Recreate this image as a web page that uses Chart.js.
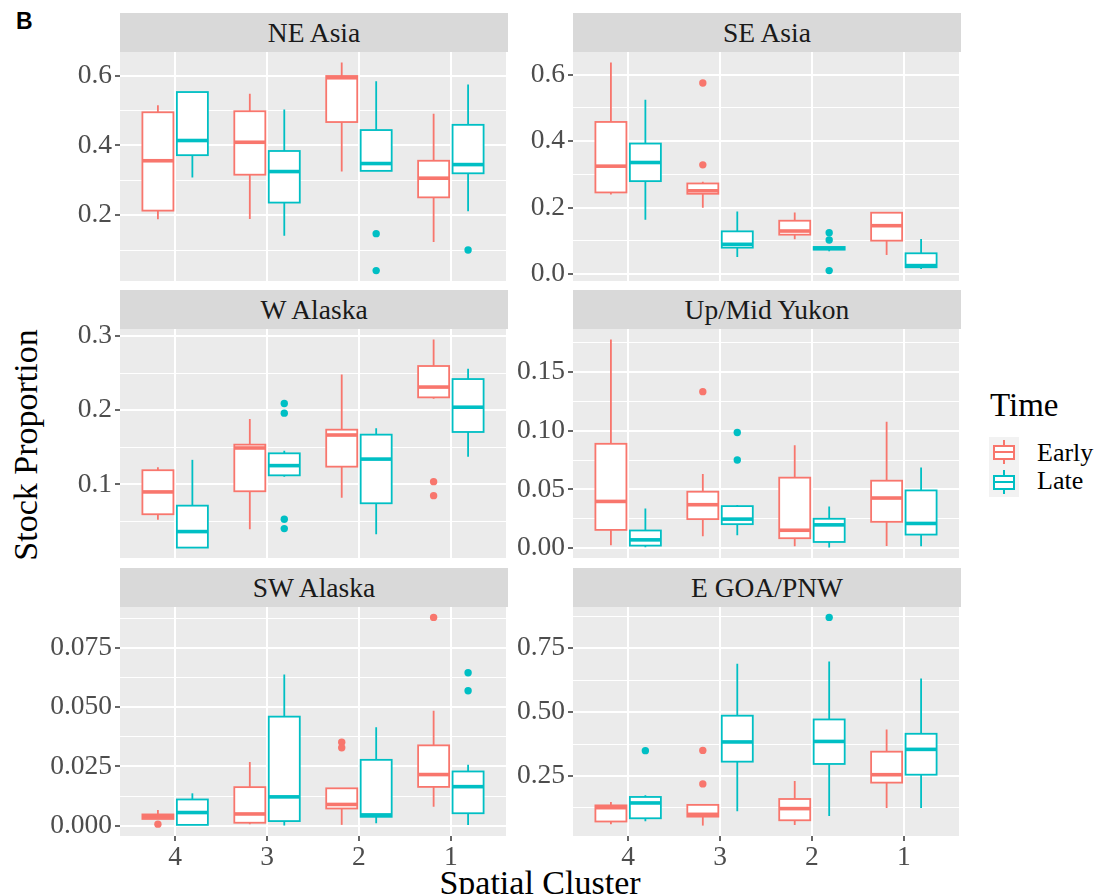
<!DOCTYPE html>
<html>
<head>
<meta charset="utf-8">
<script src="https://cdn.jsdelivr.net/npm/chart.js@4.4.1/dist/chart.umd.min.js"></script>
<style>
  body { margin: 0; width: 1102px; height: 894px; overflow: hidden; background: #fff; position: relative;
         font-family: 'Liberation Serif', 'DejaVu Serif', serif; }
  .abs { position: absolute; white-space: nowrap; }
  .strip { position: absolute; background: #D9D9D9; color: #1A1A1A; font-size: 27.5px; text-align: center; white-space: nowrap; }
  canvas { position: absolute; }
  .key { position: absolute; width: 30px; height: 30px; background: #F2F2F2; }
  .key .whisker { position: absolute; left: 14px; top: 3px; width: 2px; height: 24px; }
  .key .box { position: absolute; left: 4px; top: 8px; width: 18px; height: 11px; background: #fff; border: 2px solid; }
  .key .median { position: absolute; left: 0; top: 4px; width: 18px; height: 2px; }
</style>
</head>
<body>
<div class="abs" style="left:16px; top:10px; font-family:'Liberation Sans', Arial, sans-serif; font-weight:bold; font-size:23px; line-height:23px;">B</div>
<div class="abs" style="left:26px; top:445px; font-size:34px; line-height:34px; transform:translate(-50%,-50%) rotate(-90deg);">Stock Proportion</div>
<div class="abs" style="left:540px; top:866px; font-size:34px; line-height:34px; transform:translateX(-50%);">Spatial Cluster</div>

<div class="abs" style="left:990px; top:389px; font-size:33px; line-height:33px;">Time</div>
<div class="key" style="left:989px; top:437px;">
  <div class="whisker" style="background:#F8766D"></div>
  <div class="box" style="border-color:#F8766D"><div class="median" style="background:#F8766D"></div></div>
</div>
<div class="key" style="left:989px; top:467px;">
  <div class="whisker" style="background:#00BFC4"></div>
  <div class="box" style="border-color:#00BFC4"><div class="median" style="background:#00BFC4"></div></div>
</div>
<div class="abs" style="left:1037px; top:440px; font-size:26px; line-height:26px;">Early</div>
<div class="abs" style="left:1037px; top:468px; font-size:26px; line-height:26px;">Late</div>

<script>
// Spatial clusters on the x axis and the two sampling periods
const clusters = ['4', '3', '2', '1'];
const timeGroups = ['Early', 'Late'];
const groupColors = ['#F8766D', '#00BFC4'];

// Box summaries per cluster (4, 3, 2, 1): [lower whisker, Q1, median, Q3, upper whisker]
// Outliers: [cluster index, value]
const neAsiaEarly = [[0.188, 0.213, 0.356, 0.495, 0.515], [0.189, 0.316, 0.409, 0.498, 0.548],
                     [0.325, 0.467, 0.594, 0.599, 0.638], [0.123, 0.251, 0.306, 0.356, 0.491]];
const neAsiaLate = [[0.308, 0.372, 0.414, 0.553, 0.553], [0.141, 0.236, 0.325, 0.384, 0.503],
                    [0.327, 0.327, 0.348, 0.444, 0.584], [0.211, 0.320, 0.345, 0.459, 0.575]];
const neAsiaEarlyOut = [];
const neAsiaLateOut = [[2, 0.147], [2, 0.041], [3, 0.100]];
const neAsiaTicks = [0.2, 0.4, 0.6];
const neAsiaTickLabels = ['0.2', '0.4', '0.6'];

const seAsiaEarly = [[0.240, 0.246, 0.325, 0.458, 0.637], [0.200, 0.242, 0.251, 0.273, 0.278],
                     [0.105, 0.119, 0.130, 0.161, 0.186], [0.058, 0.101, 0.146, 0.185, 0.185]];
const seAsiaLate = [[0.164, 0.280, 0.336, 0.393, 0.525], [0.052, 0.080, 0.090, 0.129, 0.189],
                    [0.069, 0.074, 0.078, 0.082, 0.082], [0.016, 0.021, 0.026, 0.063, 0.106]];
const seAsiaEarlyOut = [[1, 0.575], [1, 0.329]];
const seAsiaLateOut = [[2, 0.125], [2, 0.103], [2, 0.011]];
const seAsiaTicks = [0, 0.2, 0.4, 0.6];
const seAsiaTickLabels = ['0.0', '0.2', '0.4', '0.6'];

const wAlaskaEarly = [[0.052, 0.0596, 0.0897, 0.119, 0.123], [0.0393, 0.0906, 0.149, 0.1535, 0.188],
                      [0.082, 0.1238, 0.1665, 0.1737, 0.248], [0.2155, 0.2173, 0.2312, 0.2596, 0.2955]];
const wAlaskaLate = [[0.0146, 0.0146, 0.0362, 0.0712, 0.133], [0.1103, 0.1121, 0.1252, 0.1418, 0.1454],
                     [0.0326, 0.0744, 0.134, 0.167, 0.1755], [0.1373, 0.1706, 0.204, 0.242, 0.256]];
const wAlaskaEarlyOut = [[3, 0.1036], [3, 0.0847]];
const wAlaskaLateOut = [[1, 0.209], [1, 0.196], [1, 0.0528], [1, 0.0402]];
const wAlaskaTicks = [0.1, 0.2, 0.3];
const wAlaskaTickLabels = ['0.1', '0.2', '0.3'];

const yukonEarly = [[0.0023, 0.0154, 0.0397, 0.0889, 0.178], [0.010, 0.0246, 0.0369, 0.048, 0.0631],
                    [0.0014, 0.0083, 0.0151, 0.060, 0.0877], [0.0017, 0.0223, 0.0426, 0.0574, 0.1077]];
const yukonLate = [[0.0006, 0.002, 0.0069, 0.0149, 0.0337], [0.0109, 0.0203, 0.0246, 0.0357, 0.0366],
                   [0.0003, 0.0051, 0.0197, 0.0249, 0.0354], [0.0014, 0.0114, 0.0209, 0.0491, 0.0686]];
const yukonEarlyOut = [[1, 0.1334]];
const yukonLateOut = [[1, 0.0986], [1, 0.0751]];
const yukonTicks = [0, 0.05, 0.10, 0.15];
const yukonTickLabels = ['0.00', '0.05', '0.10', '0.15'];

const swAlaskaEarly = [[0.0029, 0.0029, 0.0039, 0.0048, 0.0067], [0.0007, 0.0013, 0.005, 0.0163, 0.0269],
                       [0.0004, 0.0073, 0.009, 0.0158, 0.0158], [0.008, 0.0164, 0.0216, 0.0339, 0.0485]];
const swAlaskaLate = [[0.0004, 0.0004, 0.0056, 0.0111, 0.0137], [0.0001, 0.002, 0.0122, 0.046, 0.0638],
                      [0.0011, 0.0038, 0.0046, 0.0278, 0.0415], [0.0004, 0.0053, 0.0165, 0.0229, 0.0257]];
const swAlaskaEarlyOut = [[0, 0.0007], [2, 0.0352], [2, 0.0329], [3, 0.0878]];
const swAlaskaLateOut = [[3, 0.0645], [3, 0.0569]];
const swAlaskaTicks = [0, 0.025, 0.050, 0.075];
const swAlaskaTickLabels = ['0.000', '0.025', '0.050', '0.075'];

const egoaEarly = [[0.061, 0.072, 0.126, 0.135, 0.148], [0.056, 0.091, 0.100, 0.137, 0.137],
                   [0.0586, 0.0768, 0.1224, 0.160, 0.2305], [0.125, 0.224, 0.255, 0.345, 0.432]];
const egoaLate = [[0.073, 0.0846, 0.1445, 0.168, 0.1745], [0.112, 0.306, 0.383, 0.4857, 0.689],
                  [0.0938, 0.297, 0.385, 0.471, 0.698], [0.125, 0.255, 0.354, 0.415, 0.6315]];
const egoaEarlyOut = [[1, 0.350], [1, 0.219]];
const egoaLateOut = [[0, 0.349], [2, 0.870]];
const egoaTicks = [0.25, 0.50, 0.75];
const egoaTickLabels = ['0.25', '0.50', '0.75'];

const panels = [
  { title: 'NE Asia', stats: [neAsiaEarly, neAsiaLate], outliers: [neAsiaEarlyOut, neAsiaLateOut], ticks: neAsiaTicks, labels: neAsiaTickLabels },
  { title: 'SE Asia', stats: [seAsiaEarly, seAsiaLate], outliers: [seAsiaEarlyOut, seAsiaLateOut], ticks: seAsiaTicks, labels: seAsiaTickLabels },
  { title: 'W Alaska', stats: [wAlaskaEarly, wAlaskaLate], outliers: [wAlaskaEarlyOut, wAlaskaLateOut], ticks: wAlaskaTicks, labels: wAlaskaTickLabels },
  { title: 'Up/Mid Yukon', stats: [yukonEarly, yukonLate], outliers: [yukonEarlyOut, yukonLateOut], ticks: yukonTicks, labels: yukonTickLabels },
  { title: 'SW Alaska', stats: [swAlaskaEarly, swAlaskaLate], outliers: [swAlaskaEarlyOut, swAlaskaLateOut], ticks: swAlaskaTicks, labels: swAlaskaTickLabels },
  { title: 'E GOA/PNW', stats: [egoaEarly, egoaLate], outliers: [egoaEarlyOut, egoaLateOut], ticks: egoaTicks, labels: egoaTickLabels }
];

// facet grid geometry (2 columns x 3 rows)
const columns = [
  { canvasLeft: 20, plotLeft: 120, plotRight: 508 },
  { canvasLeft: 505, plotLeft: 573, plotRight: 961 }
];
const rows = [
  { stripTop: 13, plotTop: 52, plotBottom: 281 },
  { stripTop: 290, plotTop: 329, plotBottom: 558 },
  { stripTop: 568, plotTop: 607, plotBottom: 836 }
];
const PAD = 20;
const DODGE = [-0.1875, 0.1875];
const BOX_HALF = 0.16875;
const SERIF = "'Liberation Serif', 'Times New Roman', serif";
const tickFont = { family: SERIF, size: 27.5 };

Chart.defaults.font.family = SERIF;
Chart.defaults.font.size = 27.5;
Chart.defaults.color = '#4D4D4D';

// grey panel background
const panelBackground = {
  id: 'panelBackground',
  beforeDraw(chart) {
    const { ctx, chartArea: a } = chart;
    ctx.save();
    ctx.fillStyle = '#EBEBEB';
    ctx.fillRect(a.left, a.top, a.width, a.height);
    ctx.restore();
  }
};

// boxes, medians and whiskers drawn through the chart scales
const boxplots = {
  id: 'boxplots',
  beforeDatasetsDraw(chart, args, opts) {
    const { ctx, chartArea: a, scales: { x, y } } = chart;
    ctx.save();
    ctx.beginPath();
    ctx.rect(a.left, a.top, a.width, a.height);
    ctx.clip();
    opts.stats.forEach((series, g) => {
      const color = groupColors[g];
      series.forEach(([lo, q1, med, q3, hi], i) => {
        const pos = i + 1 + DODGE[g];
        const xc = x.getPixelForValue(pos);
        const x0 = x.getPixelForValue(pos - BOX_HALF);
        const x1 = x.getPixelForValue(pos + BOX_HALF);
        const yLo = y.getPixelForValue(lo), yQ1 = y.getPixelForValue(q1);
        const yMed = y.getPixelForValue(med), yQ3 = y.getPixelForValue(q3);
        const yHi = y.getPixelForValue(hi);
        ctx.strokeStyle = color;
        ctx.lineWidth = 1.8;
        ctx.beginPath();
        ctx.moveTo(xc, yHi); ctx.lineTo(xc, yQ3);
        ctx.moveTo(xc, yQ1); ctx.lineTo(xc, yLo);
        ctx.stroke();
        ctx.fillStyle = '#fff';
        ctx.fillRect(x0, yQ3, x1 - x0, yQ1 - yQ3);
        ctx.strokeRect(x0, yQ3, x1 - x0, yQ1 - yQ3);
        ctx.lineWidth = 3.6;
        ctx.beginPath();
        ctx.moveTo(x0, yMed); ctx.lineTo(x1, yMed);
        ctx.stroke();
      });
    });
    ctx.restore();
  }
};

function yRange(p) {
  const vals = [];
  p.stats.forEach(s => s.forEach(b => vals.push(...b)));
  p.outliers.forEach(o => o.forEach(([, v]) => vals.push(v)));
  const lo = Math.min(...vals), hi = Math.max(...vals);
  const pad = (hi - lo) * 0.05;
  return [lo - pad, hi + pad];
}

function yTickList(p, min, max) {
  const step = p.ticks[1] - p.ticks[0];
  const list = p.ticks.map((v, k) => ({ value: v, text: p.labels[k], minor: false }));
  [...p.ticks, p.ticks[p.ticks.length - 1] + step].forEach(v => {
    const m = v - step / 2;
    if (m > min && m < max) list.push({ value: m, text: '', minor: true });
  });
  return list.sort((a, b) => a.value - b.value);
}

function makePanel(p, idx) {
  const col = columns[idx % 2];
  const row = rows[Math.floor(idx / 2)];
  const bottomRow = idx >= 4;
  const plotH = row.plotBottom - row.plotTop;
  const xAxisH = bottomRow ? 40 : 0;
  const w = col.plotRight - col.canvasLeft + 2;
  const h = PAD + plotH + (bottomRow ? xAxisH : PAD);

  const strip = document.createElement('div');
  strip.className = 'strip';
  strip.textContent = p.title;
  Object.assign(strip.style, {
    left: col.plotLeft + 'px', top: row.stripTop + 'px',
    width: (col.plotRight - col.plotLeft) + 'px',
    height: (row.plotTop - row.stripTop) + 'px',
    lineHeight: (row.plotTop - row.stripTop) + 'px'
  });
  document.body.appendChild(strip);

  const canvas = document.createElement('canvas');
  canvas.width = w; canvas.height = h;
  Object.assign(canvas.style, {
    left: col.canvasLeft + 'px', top: (row.plotTop - PAD) + 'px',
    width: w + 'px', height: h + 'px'
  });
  document.body.appendChild(canvas);

  const [yMin, yMax] = yRange(p);
  const yTicks = yTickList(p, yMin, yMax);

  const datasets = timeGroups.map((name, g) => ({
    label: name,
    data: p.outliers[g].map(([i, v]) => ({ x: i + 1 + DODGE[g], y: v })),
    pointRadius: 3.7,
    pointBackgroundColor: groupColors[g],
    pointBorderWidth: 0
  }));

  new Chart(canvas, {
    type: 'scatter',
    data: { datasets },
    options: {
      responsive: false,
      animation: false,
      devicePixelRatio: 1,
      layout: { padding: { top: PAD, bottom: bottomRow ? 0 : PAD, left: 0, right: 2 } },
      plugins: {
        legend: { display: false },
        tooltip: { enabled: false },
        boxplots: { stats: p.stats }
      },
      scales: {
        x: {
          type: 'linear', min: 0.4, max: 4.6,
          afterBuildTicks: ax => { ax.ticks = clusters.map((c, i) => ({ value: i + 1 })); },
          afterFit: ax => { ax.height = xAxisH; },
          ticks: {
            display: bottomRow, autoSkip: false, maxRotation: 0, padding: 0,
            color: '#4D4D4D', font: tickFont,
            callback: (v, i) => clusters[i]
          },
          grid: { color: '#FFFFFF', lineWidth: 2, drawTicks: bottomRow, tickLength: 5, tickColor: '#333333', tickWidth: 1.5 },
          border: { display: false }
        },
        y: {
          type: 'linear', min: yMin, max: yMax,
          afterBuildTicks: ax => { ax.ticks = yTicks.map(t => ({ ...t })); },
          afterFit: ax => { ax.width = col.plotLeft - col.canvasLeft; },
          ticks: {
            autoSkip: false, padding: 3, color: '#4D4D4D', font: tickFont,
            callback: (v, i, ticks) => ticks[i].text
          },
          grid: {
            color: '#FFFFFF',
            lineWidth: ctx => (ctx.tick && ctx.tick.minor) ? 1 : 2,
            tickLength: 5,
            tickWidth: 1.5,
            tickColor: ctx => (ctx.tick && ctx.tick.minor) ? 'rgba(0,0,0,0)' : '#333333'
          },
          border: { display: false }
        }
      }
    },
    plugins: [panelBackground, boxplots]
  });
}

panels.forEach(makePanel);
</script>
</body>
</html>
